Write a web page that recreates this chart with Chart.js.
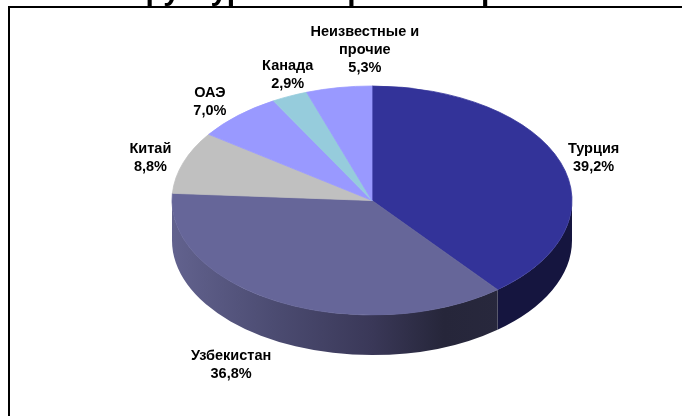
<!DOCTYPE html>
<html>
<head>
<meta charset="utf-8">
<title>Структура импорта</title>
<script src="https://cdn.jsdelivr.net/npm/chart.js@4"></script>
<style>
    html, body { margin: 0; padding: 0; background: #fff; overflow: hidden; }
    canvas { display: block; filter: blur(0.35px); }
</style>
</head>
<body>
<canvas id="pie-canvas" width="682" height="416"></canvas>
<script>
const titleText = 'Структура импорта по странам';
const categories = ['Турция', 'Узбекистан', 'Китай', 'ОАЭ', 'Канада', 'Неизвестные и\nпрочие'];
const shares = [39.2, 36.8, 8.8, 7.0, 2.9, 5.3];
const sliceColors = ['#333399', '#666699', '#C0C0C0', '#9999FF', '#96CCDC', '#9999FF'];

// how far each label sits from the middle of its slice's rim
const labelShift = [[33, -4], [-49, 63], [-33, -4], [-28, -14], [-2, -21], [26, -38]];

const SQUASH = 0.5725;
const DEPTH = 40;
const LABEL_FONT = 'bold 14.5px "Liberation Sans", Arial, sans-serif';

// gradient along x on the front wall, only the two front slices need it
const wallStops = [
    [[0, '#15153f'], [1, '#15153f']],
    [[0, '#62628e'], [0.25, '#4c4c72'], [0.5, '#3a3858'], [0.68, '#26263a'], [1, '#2a2a40']]
];

const pie3d = {
    id: 'pie3d',
    beforeDatasetsDraw(chart) {
        const ctx = chart.ctx;
        const arcs = chart.getDatasetMeta(0).data;

        ctx.save();
        ctx.fillStyle = '#fff';
        ctx.fillRect(0, 0, chart.width, chart.height);

        // title sits mostly above the page, only the descenders show
        ctx.fillStyle = '#000';
        ctx.font = 'bold 30px "Liberation Sans", Arial, sans-serif';
        ctx.textAlign = 'center';
        ctx.textBaseline = 'alphabetic';
        ctx.fillText(titleText, chart.width / 2, 0);

        // frame, open on the right and at the bottom
        ctx.fillStyle = '#fff';
        ctx.fillRect(8, 6, chart.width, chart.height);
        ctx.fillStyle = '#000';
        ctx.fillRect(8, 6, chart.width, 2);
        ctx.fillRect(8, 6, 2, chart.height);

        arcs.forEach((el, i) => {
            const a = Math.max(el.startAngle, 0);
            const b = Math.min(el.endAngle, Math.PI);
            if (a >= b) {
                return;
            }
            const rx = el.outerRadius;
            const ry = rx * SQUASH;
            const grad = ctx.createLinearGradient(el.x - rx, 0, el.x + rx, 0);
            wallStops[i].forEach(s => grad.addColorStop(s[0], s[1]));
            ctx.fillStyle = grad;
            ctx.beginPath();
            ctx.ellipse(el.x, el.y, rx, ry, 0, a, b);
            ctx.ellipse(el.x, el.y + DEPTH, rx, ry, 0, b, a, true);
            ctx.closePath();
            ctx.fill();
        });
        ctx.restore();

        // the pie itself is drawn by the library, flattened
        const cy = arcs[0].y;
        ctx.save();
        ctx.translate(0, cy);
        ctx.scale(1, SQUASH);
        ctx.translate(0, -cy);
    },
    afterDatasetsDraw(chart) {
        const ctx = chart.ctx;
        ctx.restore();

        ctx.save();
        ctx.fillStyle = '#000';
        ctx.font = LABEL_FONT;
        ctx.textAlign = 'center';
        ctx.textBaseline = 'middle';
        chart.getDatasetMeta(0).data.forEach((el, i) => {
            const mid = (el.startAngle + el.endAngle) / 2;
            const x = el.x + Math.cos(mid) * el.outerRadius + labelShift[i][0];
            const y = el.y + Math.sin(mid) * el.outerRadius * SQUASH + labelShift[i][1];
            const lines = categories[i].split('\n');
            lines.push(shares[i].toFixed(1).replace('.', ',') + '%');
            lines.forEach((line, n) => {
                ctx.fillText(line, x, y + (n - (lines.length - 1) / 2) * 18);
            });
        });
        ctx.restore();
    }
};

new Chart(document.getElementById('pie-canvas').getContext('2d'), {
    type: 'pie',
    data: {
        labels: categories,
        datasets: [{
            data: shares,
            backgroundColor: sliceColors,
            borderColor: sliceColors,
            borderWidth: 1
        }]
    },
    options: {
        responsive: false,
        animation: false,
        events: [],
        layout: { padding: { left: 171.5, right: 109.5, top: 0, bottom: 15 } },
        plugins: {
            legend: { display: false },
            title: { display: false },
            tooltip: { enabled: false }
        }
    },
    plugins: [pie3d]
});
</script>
</body>
</html>
